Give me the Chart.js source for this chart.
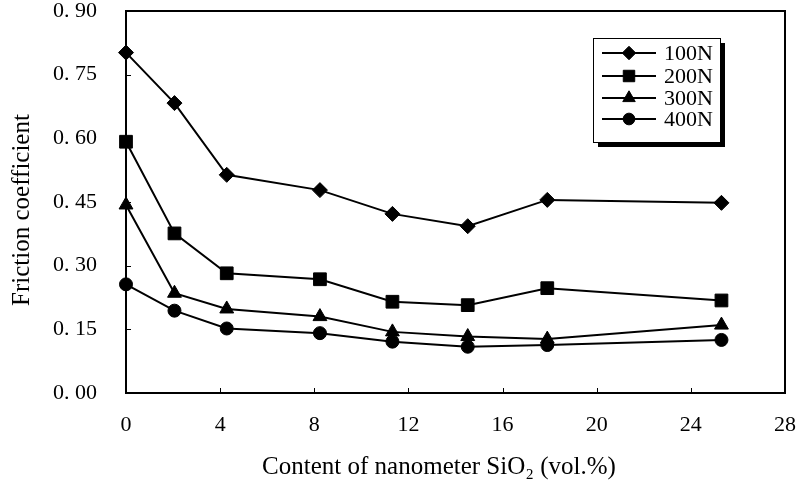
<!DOCTYPE html>
<html lang="en">
<head>
    <meta charset="UTF-8">
    <title>Friction coefficient vs SiO2 content</title>
    <script src="https://cdn.jsdelivr.net/npm/chart.js"></script>
    <style>
        body {
            margin: 0;
            background-color: #fff;
        }
        canvas {
            display: block;
        }
    </style>
</head>
<body>
    <canvas id="frictionChart" width="797" height="494"></canvas>

    <script>
        // SiO2 content (vol.%) for each sample
        const contents = [0, 2.06, 4.28, 8.24, 11.32, 14.52, 17.9, 25.3];

        // Friction coefficient per load
        const loads = ['100N', '200N', '300N', '400N'];
        const friction100 = [0.802, 0.683, 0.514, 0.478, 0.422, 0.393, 0.455, 0.448];
        const friction200 = [0.592, 0.376, 0.282, 0.268, 0.215, 0.207, 0.247, 0.218];
        const friction300 = [0.443, 0.235, 0.198, 0.180, 0.144, 0.133, 0.127, 0.160];
        const friction400 = [0.256, 0.194, 0.152, 0.141, 0.121, 0.109, 0.113, 0.125];

        const yTicks = [0, 0.15, 0.30, 0.45, 0.60, 0.75, 0.90];
        const xTicks = [0, 4, 8, 12, 16, 20, 24, 28];

        const markers = ['rectRot', 'rect', 'triangle', 'circle'];
        const markerSizes = [7.5, 9, 8, 6.5];
        const serif = '"Liberation Serif", "DejaVu Serif", serif';

        const series = [friction100, friction200, friction300, friction400];
        const datasets = series.map((values, i) => ({
            label: loads[i],
            data: values.map((v, j) => ({ x: contents[j], y: v })),
            borderColor: '#000',
            backgroundColor: '#000',
            borderWidth: 2,
            pointStyle: markers[i],
            pointRadius: markerSizes[i],
            pointBorderWidth: 1,
            tension: 0,
            clip: false
        }));

        // no extra room for edge labels, plot box is fixed
        function noEdgePadding(scale) {
            scale.paddingTop = 0;
            scale.paddingBottom = 0;
            scale.paddingLeft = 0;
            scale.paddingRight = 0;
        }

        // frame, inner tick marks, titles and boxed legend
        const decorations = {
            id: 'decorations',
            afterDatasetsDraw(chart) {
                const ctx = chart.ctx;
                const area = chart.chartArea;
                const xs = chart.scales.x;
                const ys = chart.scales.y;

                ctx.save();
                ctx.strokeStyle = '#000';
                ctx.lineWidth = 2;
                ctx.strokeRect(area.left, area.top, area.right - area.left, area.bottom - area.top);

                ctx.lineWidth = 1;
                ctx.beginPath();
                xTicks.slice(1, -1).forEach(v => {
                    const px = Math.round(xs.getPixelForValue(v)) + 0.5;
                    ctx.moveTo(px, area.bottom);
                    ctx.lineTo(px, area.bottom - 5);
                });
                yTicks.slice(1, -1).forEach(v => {
                    const py = Math.round(ys.getPixelForValue(v)) + 0.5;
                    ctx.moveTo(area.left, py);
                    ctx.lineTo(area.left + 5, py);
                });
                ctx.stroke();

                // axis titles
                ctx.fillStyle = '#000';
                ctx.font = '25px ' + serif;
                ctx.textAlign = 'center';
                ctx.textBaseline = 'middle';
                ctx.fillText('Content of nanometer SiO\u2082 (vol.%)', 439, 467);

                ctx.save();
                ctx.translate(22, 210);
                ctx.rotate(-Math.PI / 2);
                ctx.fillText('Friction coefficient', 0, 0);
                ctx.restore();

                // legend box with drop shadow
                const lx = 593, ly = 38, lw = 127, lh = 104;
                ctx.fillRect(lx + 5, ly + 5, lw, lh);
                ctx.fillStyle = '#fff';
                ctx.fillRect(lx, ly, lw, lh);
                ctx.lineWidth = 1;
                ctx.strokeRect(lx + 0.5, ly + 0.5, lw, lh);

                const rows = [53, 76, 98, 119];
                ctx.font = '22px ' + serif;
                ctx.textAlign = 'left';
                chart.data.datasets.forEach((ds, i) => {
                    const ry = rows[i];
                    ctx.strokeStyle = '#000';
                    ctx.lineWidth = 2;
                    ctx.beginPath();
                    ctx.moveTo(602, ry);
                    ctx.lineTo(656, ry);
                    ctx.stroke();
                    ctx.fillStyle = '#000';
                    ctx.lineWidth = 1;
                    Chart.helpers.drawPoint(ctx, {
                        pointStyle: ds.pointStyle,
                        radius: ds.pointRadius * 0.9,
                        rotation: 0,
                        borderWidth: 1
                    }, 629, ry);
                    ctx.fillText(ds.label, 664, ry + 1);
                });
                ctx.restore();
            }
        };

        new Chart(document.getElementById('frictionChart'), {
            type: 'line',
            data: { datasets: datasets },
            options: {
                responsive: false,
                animation: false,
                layout: {
                    padding: { top: 11, right: 12, left: 0, bottom: 0 }
                },
                scales: {
                    x: {
                        type: 'linear',
                        min: 0,
                        max: 28,
                        afterFit: scale => {
                            scale.height = 101;
                            noEdgePadding(scale);
                        },
                        afterBuildTicks: scale => {
                            scale.ticks = xTicks.map(v => ({ value: v }));
                        },
                        grid: { display: false, drawTicks: false },
                        border: { display: false },
                        ticks: {
                            padding: 19,
                            color: '#000',
                            font: { family: serif, size: 22 },
                            maxRotation: 0,
                            autoSkip: false
                        }
                    },
                    y: {
                        min: 0,
                        max: 0.9,
                        afterFit: scale => {
                            scale.width = 126;
                            noEdgePadding(scale);
                        },
                        afterBuildTicks: scale => {
                            scale.ticks = yTicks.map(v => ({ value: v }));
                        },
                        grid: { display: false, drawTicks: false },
                        border: { display: false },
                        ticks: {
                            padding: 29,
                            color: '#000',
                            font: { family: serif, size: 22 },
                            callback: v => v.toFixed(2).replace('.', '. ')
                        }
                    }
                },
                plugins: {
                    legend: { display: false },
                    tooltip: { enabled: false }
                }
            },
            plugins: [decorations]
        });
    </script>
</body>
</html>
